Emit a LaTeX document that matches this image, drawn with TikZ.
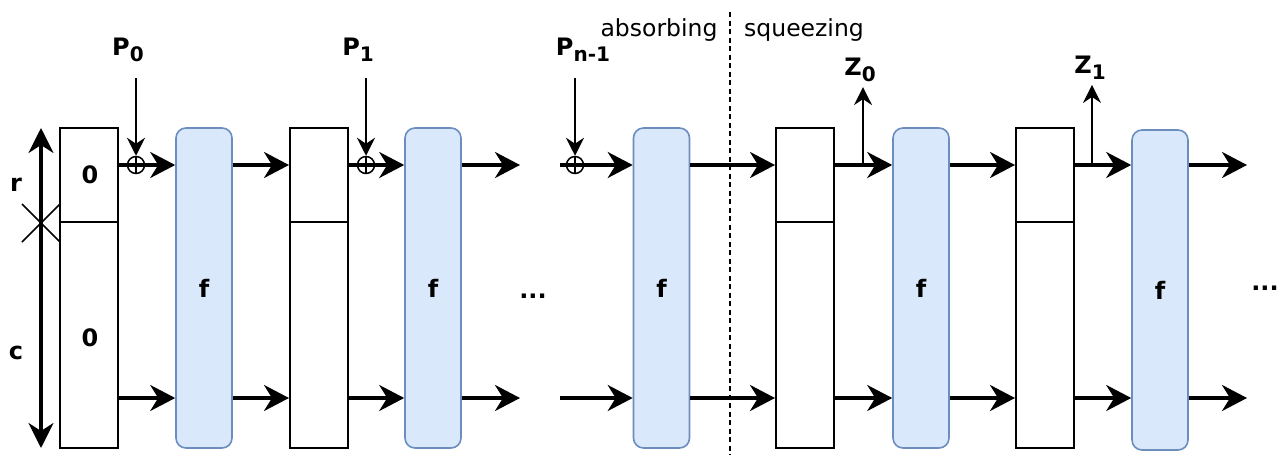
\documentclass[tikz,border=0pt]{standalone}
\usepackage{fontspec}
\setmainfont{DejaVu Sans}
\usetikzlibrary{arrows.meta,calc}
\definecolor{fblue}{HTML}{DAE8FC}
\definecolor{fline}{HTML}{6C8EBF}
\newcommand\lblfont{\fontsize{24}{24}\selectfont\bfseries}
\newcommand\sbx[1]{\raisebox{-6pt}{\fontsize{20}{20}\selectfont\bfseries #1}}
\tikzset{
 statebox/.style={draw,line width=2pt,minimum width=58pt,minimum height=320pt,inner sep=0pt},
 fbox/.style={draw=fline,fill=fblue,line width=1.6pt,rounded corners=10pt,minimum width=56pt,minimum height=320pt,inner sep=0pt,font=\lblfont},
 flow/.style={line width=3.2pt,-{Stealth[length=25pt,width=26pt,inset=8pt]}},
 thinarrow/.style={line width=1.8pt,-{Stealth[length=18pt,width=18pt,inset=6pt]}},
 xor/.style={draw,circle,line width=1.5pt,minimum size=17pt,inner sep=0pt,
   path picture={\draw[line width=1.4pt] (path picture bounding box.north) -- (path picture bounding box.south) (path picture bounding box.west) -- (path picture bounding box.east);}},
 lbl/.style={font=\lblfont,inner sep=0pt},
 phase/.style={font=\fontsize{23.5}{23.5}\selectfont,inner sep=0pt},
}
\begin{document}
\begin{tikzpicture}[x=1pt,y=-1pt]
\useasboundingbox (0,0) rectangle (1281,455);

% state boxes
\node[statebox] (s1) at (89,288) {};
\node[statebox] (s2) at (319,288) {};
\node[statebox] (s3) at (805,288) {};
\node[statebox] (s4) at (1045,288) {};
\foreach \s in {s1,s2,s3,s4}{
  \draw[line width=2pt] ($(\s.north west)+(0,95)$) -- ($(\s.north east)+(0,95)$);
}
\node[lbl] (r0) at (90,175) {0};
\node[lbl] (c0) at (90,338) {0};

% f boxes
\node[fbox] (f1) at (204,288) {f};
\node[fbox] (f2) at (433,288) {f};
\node[fbox] (f3) at (661.5,288) {f};
\node[fbox] (f4) at (921,288) {f};
\node[fbox] (f5) at (1160,290) {f};

% levels
\coordinate (top) at (0,165);
\coordinate (bot) at (0,398);

% xor nodes and labels
\node[xor] (x1) at (136,165) {};
\node[xor] (x2) at (366,165) {};
\node[xor] (x3) at (575,165) {};
\node[lbl] (p0) at (128,50) {P\sbx{0}};
\node[lbl] (p1) at (358,50) {P\sbx{1}};
\node[lbl] (pn) at (583,50) {P\sbx{n-1}};
\node[lbl] (z0) at (860,70) {Z\sbx{0}};
\node[lbl] (z1) at (1090,68) {Z\sbx{1}};

% free ends
\coordinate (e1t) at (520,165);
\coordinate (e1b) at (520,398);
\coordinate (b3t) at (560,165);
\coordinate (b3b) at (560,398);
\coordinate (e2t) at (1247,165);
\coordinate (e2b) at (1247,398);
\coordinate (z0b) at (863,165);
\coordinate (z1b) at (1092,165);

% flows
\draw[flow] (s1.east |- top) -- (f1.west |- top);
\draw[flow] (s1.east |- bot) -- (f1.west |- bot);
\draw[flow] (f1.east |- top) -- (s2.west |- top);
\draw[flow] (f1.east |- bot) -- (s2.west |- bot);
\draw[flow] (s2.east |- top) -- (f2.west |- top);
\draw[flow] (s2.east |- bot) -- (f2.west |- bot);
\draw[flow] (f2.east |- top) -- (e1t);
\draw[flow] (f2.east |- bot) -- (e1b);
\draw[flow] (b3t) -- (f3.west |- top);
\draw[flow] (b3b) -- (f3.west |- bot);
\draw[flow] (f3.east |- top) -- (s3.west |- top);
\draw[flow] (f3.east |- bot) -- (s3.west |- bot);
\draw[flow] (s3.east |- top) -- (f4.west |- top);
\draw[flow] (s3.east |- bot) -- (f4.west |- bot);
\draw[flow] (f4.east |- top) -- (s4.west |- top);
\draw[flow] (f4.east |- bot) -- (s4.west |- bot);
\draw[flow] (s4.east |- top) -- (f5.west |- top);
\draw[flow] (s4.east |- bot) -- (f5.west |- bot);
\draw[flow] (f5.east |- top) -- (e2t);
\draw[flow] (f5.east |- bot) -- (e2b);

% input / output arrows
\draw[thinarrow, shorten <=16pt] (x1 |- p0.south) -- (x1.north);
\draw[thinarrow, shorten <=16pt] (x2 |- p1.south) -- (x2.north);
\draw[thinarrow, shorten <=16pt] (x3 |- pn.south) -- (x3.north);
\draw[thinarrow, shorten >=5pt] (z0b) -- (z0b |- z0.south);
\draw[thinarrow, shorten >=5pt] (z1b) -- (z1b |- z1.south);

% left dimension
\coordinate (ax1) at (41,128);
\coordinate (ax2) at (41,448);
\draw[line width=3.2pt,{Stealth[length=25pt,width=25pt,inset=8pt]}-{Stealth[length=25pt,width=25pt,inset=8pt]}] (ax1) -- (ax2);
\coordinate (xm) at (41,223);
\draw[line width=1.6pt] ($(xm)+(-19,-19)$) -- ($(xm)+(19,19)$) ($(xm)+(-19,19)$) -- ($(xm)+(19,-19)$);
\node[lbl] (rl) at (16,185) {r};
\node[lbl] (cl) at (16,353) {c};

% dots
\node[lbl] (d1) at (533,296) {...};
\node[lbl] (d2) at (1265,288) {...};

% phase separator
\coordinate (sep1) at (730,12);
\coordinate (sep2) at (730,455);
\draw[line width=1.5pt, dash pattern=on 5pt off 3.5pt] (sep1) -- (sep2);
\node[phase] (ab) at (659,30) {absorbing};
\node[phase] (sq) at (804,30) {squeezing};
\end{tikzpicture}
\end{document}
